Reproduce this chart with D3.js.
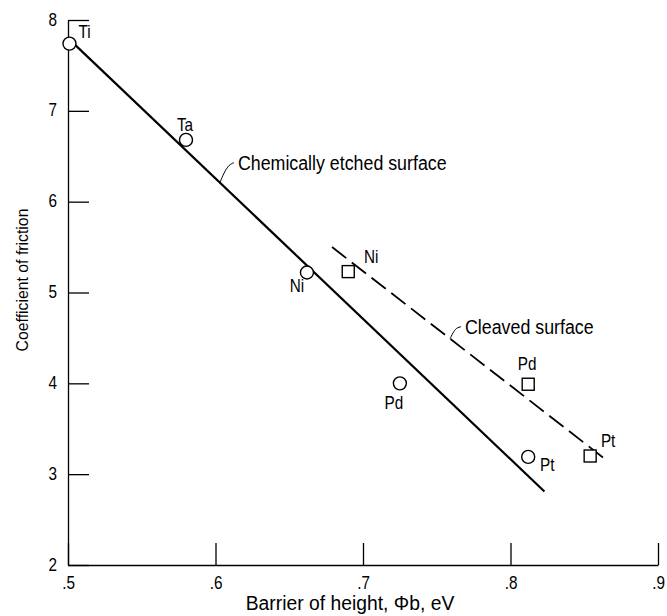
<!DOCTYPE html>
<html>
<head>
<meta charset="utf-8">
<script src="https://cdn.jsdelivr.net/npm/d3@7"></script>
<style>
  body { margin: 0; background: #fff; }
  svg { font-family: 'Liberation Sans', Arial, sans-serif; }
  .tick text { font-size: 18px; fill: #000; }
  .tick line, .domain { stroke: #000; stroke-width: 1.3px; }
</style>
</head>
<body>
<svg width="667" height="616"></svg>
<script>
// chemically etched surface (circles)
const etchedMetals = ['Ti', 'Ta', 'Ni', 'Pd', 'Pt'];
const etchedBarrier = [0.501, 0.580, 0.662, 0.725, 0.812];
const etchedFriction = [7.74, 6.68, 5.22, 4.00, 3.19];
// cleaved surface (squares)
const cleavedMetals = ['Ni', 'Pd', 'Pt'];
const cleavedBarrier = [0.690, 0.812, 0.854];
const cleavedFriction = [5.23, 3.99, 3.20];
// fitted lines, end points
const etchedFitX = [0.500, 0.823];
const etchedFitY = [7.80, 2.81];
const cleavedFitX = [0.679, 0.863];
const cleavedFitY = [5.50, 3.18];
const xTicks = [0.5, 0.6, 0.7, 0.8, 0.9];
const yTicks = [2, 3, 4, 5, 6, 7, 8];

function whenLoaded(){
    const svg = d3.select('svg');

    const xScale = d3.scaleLinear().domain([0.5, 0.9]).range([68, 658]);
    const yScale = d3.scaleLinear().domain([2, 8]).range([565, 20]);

    // the scanned lettering is a condensed face, squeeze a normal one
    const squeeze = 0.88;
    const addText = (x, y, txt, size, k) => svg.append('text')
        .attr('transform', `translate(${x},${y}) scale(${k || squeeze},1)`)
        .attr('dominant-baseline', 'central')
        .style('font-size', size + 'px')
        .text(txt);

    // label offsets in px, same order as the metals
    const etchedOffsets = [[15, -12], [-1, -15], [-10, 14], [-6, 20], [19, 8]];
    const cleavedOffsets = [[23, -15], [-1, -20], [18, -15]];

    const xAxis = d3.axisBottom(xScale)
        .tickValues(xTicks)
        .tickSize(-22)
        .tickSizeOuter(0)
        .tickPadding(9)
        .tickFormat(d => d3.format('.1f')(d).replace(/^0/, ''));

    const yAxis = d3.axisLeft(yScale)
        .tickValues(yTicks)
        .tickSize(-21)
        .tickSizeOuter(0)
        .tickPadding(13)
        .tickFormat(d3.format('d'));

    const xAxisG = svg.append('g')
        .attr('transform', `translate(0,${yScale(2)})`)
        .call(xAxis);
    xAxisG.select('.domain').attr('stroke-width', 1.8);

    const yAxisG = svg.append('g')
        .attr('transform', `translate(${xScale(0.5)},0)`)
        .call(yAxis);

    svg.selectAll('.tick text')
        .attr('fill', '#000')
        .attr('transform', 'scale(0.85,1)');
    yAxisG.selectAll('.tick text').attr('dy', '0.28em');
    xAxisG.selectAll('.tick text').attr('dy', '0.85em');

    // axis titles
    addText(350, 603, 'Barrier of height, Φb, eV', 21, 0.92).attr('text-anchor', 'middle');
    svg.append('text')
        .attr('transform', 'translate(22,280) rotate(-90) scale(0.93,1)')
        .attr('text-anchor', 'middle')
        .attr('dominant-baseline', 'central')
        .style('font-size', '17px')
        .text('Coefficient of friction');

    const line = d3.line()
        .x(d => xScale(d[0]))
        .y(d => yScale(d[1]));

    svg.append('path')
        .datum(d3.zip(etchedFitX, etchedFitY))
        .attr('d', line)
        .attr('fill', 'none')
        .attr('stroke', '#000')
        .attr('stroke-width', 2.2);

    svg.append('path')
        .datum(d3.zip(cleavedFitX, cleavedFitY))
        .attr('d', line)
        .attr('fill', 'none')
        .attr('stroke', '#000')
        .attr('stroke-width', 1.8)
        .attr('stroke-dasharray', '18,7');

    const etched = etchedMetals.map((m, i) => ({
        metal: m, x: etchedBarrier[i], y: etchedFriction[i], off: etchedOffsets[i]
    }));
    const cleaved = cleavedMetals.map((m, i) => ({
        metal: m, x: cleavedBarrier[i], y: cleavedFriction[i], off: cleavedOffsets[i]
    }));

    svg.selectAll('circle.etched').data(etched)
        .enter()
        .append('circle')
        .attr('class', 'etched')
        .attr('cx', d => xScale(d.x))
        .attr('cy', d => yScale(d.y))
        .attr('r', 6.5)
        .attr('fill', '#fff')
        .attr('stroke', '#000')
        .attr('stroke-width', 1.4);

    const sq = 12;
    svg.selectAll('rect.cleaved').data(cleaved)
        .enter()
        .append('rect')
        .attr('class', 'cleaved')
        .attr('x', d => xScale(d.x) - sq / 2)
        .attr('y', d => yScale(d.y) - sq / 2)
        .attr('width', sq)
        .attr('height', sq)
        .attr('fill', '#fff')
        .attr('stroke', '#000')
        .attr('stroke-width', 1.4);

    etched.concat(cleaved).forEach(d => {
        addText(xScale(d.x) + d.off[0], yScale(d.y) + d.off[1], d.metal, 18, 0.85)
            .attr('text-anchor', 'middle');
    });

    // curve labels with small leaders, leader starts on the fitted line
    const notes = [
        {text: 'Chemically etched surface', fitX: etchedFitX, fitY: etchedFitY, at: 0.603,
         lead: [[0, 0], [4, -10], [9, -18], [14, -20]]},
        {text: 'Cleaved surface', fitX: cleavedFitX, fitY: cleavedFitY, at: 0.759,
         lead: [[0, 0], [4, -8], [7, -11], [11, -12]]}
    ];
    notes.forEach(n => {
        const fx = d3.scaleLinear().domain(n.fitX).range(n.fitY);
        const px = xScale(n.at);
        const py = yScale(fx(n.at));
        svg.append('path')
            .attr('d', d3.line().curve(d3.curveBasis)(n.lead.map(p => [px + p[0], py + p[1]])))
            .attr('fill', 'none')
            .attr('stroke', '#000')
            .attr('stroke-width', 1);
        const last = n.lead[n.lead.length - 1];
        addText(px + last[0] + 4, py + last[1], n.text, 20, 0.89);
    });
}

window.onload = whenLoaded;
</script>
</body>
</html>
